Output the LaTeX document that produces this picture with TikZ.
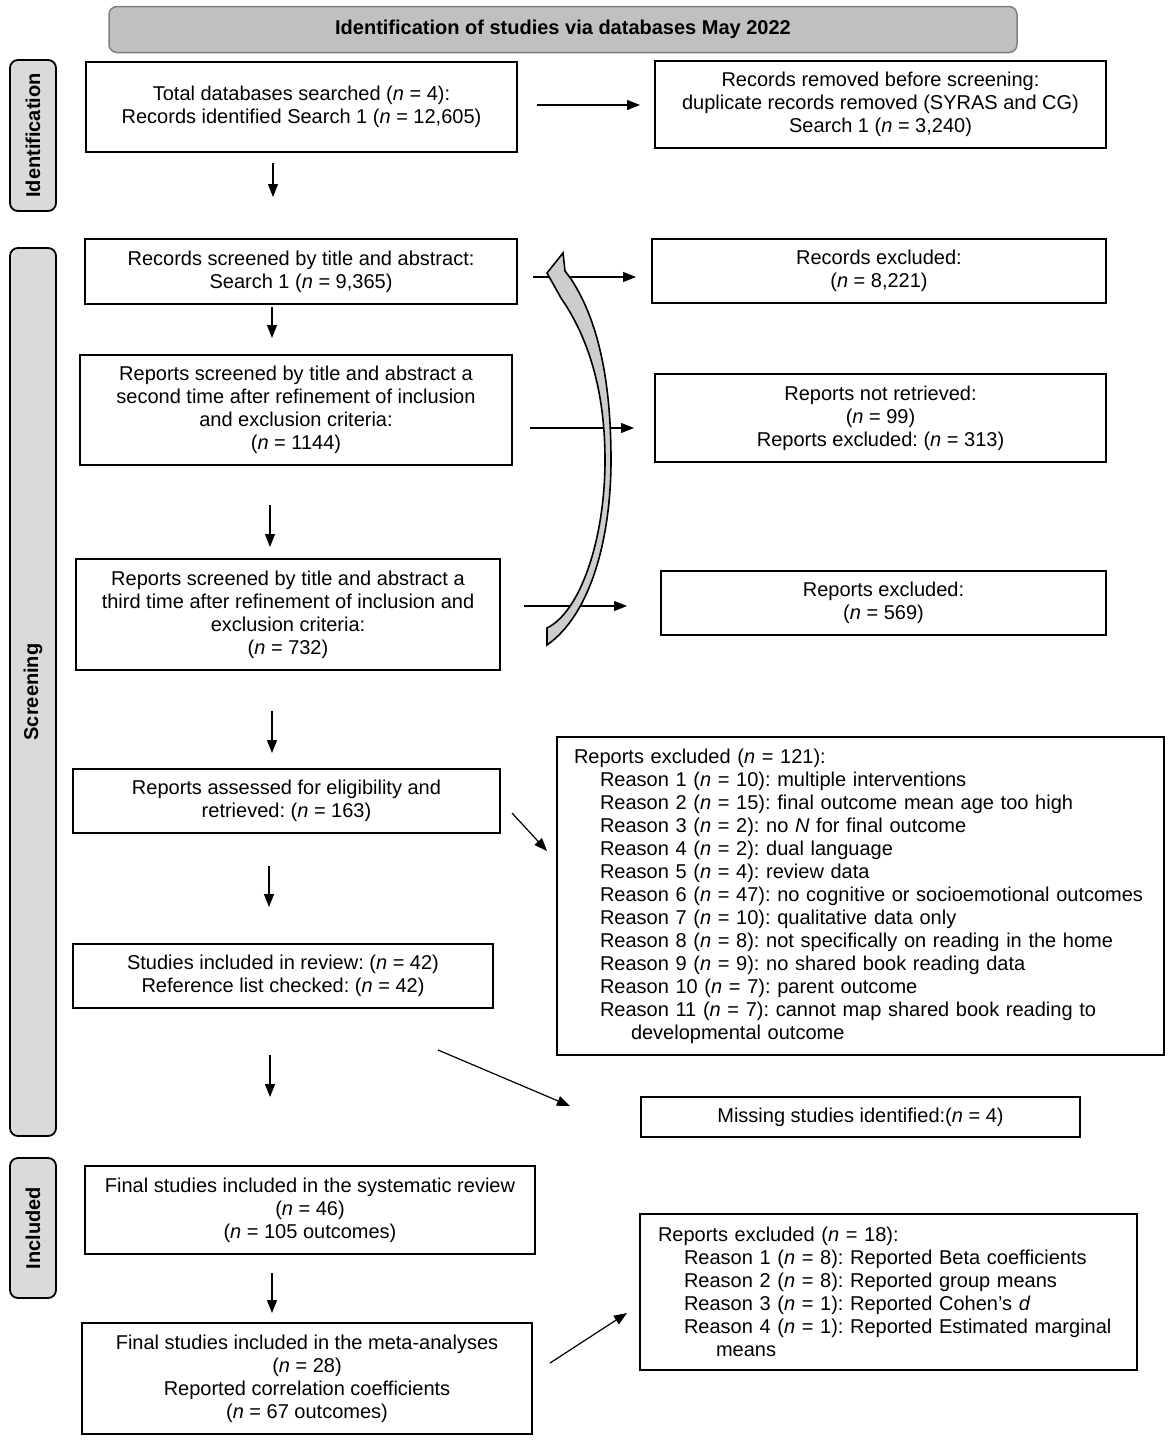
\documentclass[tikz,border=0pt]{standalone}
\usepackage{fontspec}
\setmainfont{Liberation Sans}
\usetikzlibrary{arrows.meta}
\definecolor{hdrfill}{RGB}{192,192,192}
\definecolor{hdrline}{RGB}{128,128,128}
\definecolor{sidefill}{RGB}{218,218,218}
\definecolor{bandfill}{RGB}{205,205,205}
\newcommand{\nn}{\textit{n}}
\frenchspacing
\begin{document}
\begin{tikzpicture}[x=1pt,y=-1pt,
  box/.style={draw, line width=1.8pt, inner sep=0pt, align=center, font=\fontsize{20}{23}\selectfont},
  side/.style={draw, line width=1.8pt, rounded corners=8pt, fill=sidefill, inner sep=0pt, font=\bfseries\fontsize{20}{23}\selectfont},
  arr/.style={line width=1.2pt, -{Triangle[length=13pt,width=10pt]}}
]
\useasboundingbox (0,0) rectangle (1170,1443);

% header
\node[draw=hdrline, fill=hdrfill, line width=1.5pt, rounded corners=8pt, inner sep=0pt,
      minimum width=908pt, minimum height=46pt, font=\bfseries\fontsize{20}{23}\selectfont]
      (hdr) at (563,29.5) {Identification of studies via databases May 2022};

% side labels
\node[side, rotate=90, minimum width=151pt, minimum height=46pt] (idl) at (33,135.5) {Identification};
\node[side, rotate=90, minimum width=888pt, minimum height=46pt] (scl) at (33,692) {Screening};
\node[side, rotate=90, minimum width=140pt, minimum height=46pt] (inl) at (33,1228) {Included};

% left column
\node[box, minimum width=431pt, minimum height=90pt] (B1) at (301.5,107)
  {Total databases searched (\nn{} = 4):\\Records identified Search 1 (\nn{} = 12,605)};
\node[box, minimum width=432pt, minimum height=65pt] (B2) at (301,271.5)
  {Records screened by title and abstract:\\Search 1 (\nn{} = 9,365)};
\node[box, minimum width=432pt, minimum height=110pt] (B3) at (296,410)
  {Reports screened by title and abstract a\\second time after refinement of inclusion\\and exclusion criteria:\\(\nn{} = 1144)};
\node[box, minimum width=424pt, minimum height=111pt] (B4) at (288,614.5)
  {Reports screened by title and abstract a\\third time after refinement of inclusion and\\exclusion criteria:\\(\nn{} = 732)};
\node[box, minimum width=427pt, minimum height=64pt] (B5) at (286.5,801)
  {Reports assessed for eligibility and\\retrieved: (\nn{} = 163)};
\node[box, minimum width=420pt, minimum height=64pt] (B6) at (283,976)
  {Studies included in review: (\nn{} = 42)\\Reference list checked: (\nn{} = 42)};
\node[box, minimum width=450pt, minimum height=88pt] (B7) at (310,1210)
  {Final studies included in the systematic review\\(\nn{} = 46)\\(\nn{} = 105 outcomes)};
\node[box, minimum width=450pt, minimum height=111pt] (B8) at (307,1378.5)
  {Final studies included in the meta-analyses\\(\nn{} = 28)\\Reported correlation coefficients\\(\nn{} = 67 outcomes)};

% right column
\node[box, minimum width=451pt, minimum height=87pt] (R1) at (880.5,104.5)
  {Records removed before screening:\\duplicate records removed (SYRAS and CG)\\Search 1 (\nn{} = 3,240)};
\node[box, minimum width=454pt, minimum height=64pt] (R2) at (879,271)
  {Records excluded:\\(\nn{} = 8,221)};
\node[box, minimum width=451pt, minimum height=88pt] (R3) at (880.5,418)
  {Reports not retrieved:\\(\nn{} = 99)\\Reports excluded: (\nn{} = 313)};
\node[box, minimum width=445pt, minimum height=64pt] (R4) at (883.5,603)
  {Reports excluded:\\(\nn{} = 569)};
\node[box, align=left, text width=573pt, minimum width=607pt, minimum height=318pt] (R5) at (860.5,896)
  {\mbox{Reports excluded (\nn{} = 121):}\\
   \mbox{\hspace*{26pt}Reason 1 (\nn{} = 10): multiple interventions}\\
   \mbox{\hspace*{26pt}Reason 2 (\nn{} = 15): final outcome mean age too high}\\
   \mbox{\hspace*{26pt}Reason 3 (\nn{} = 2): no \textit{N} for final outcome}\\
   \mbox{\hspace*{26pt}Reason 4 (\nn{} = 2): dual language}\\
   \mbox{\hspace*{26pt}Reason 5 (\nn{} = 4): review data}\\
   \mbox{\hspace*{26pt}Reason 6 (\nn{} = 47): no cognitive or socioemotional outcomes}\\
   \mbox{\hspace*{26pt}Reason 7 (\nn{} = 10): qualitative data only}\\
   \mbox{\hspace*{26pt}Reason 8 (\nn{} = 8): not specifically on reading in the home}\\
   \mbox{\hspace*{26pt}Reason 9 (\nn{} = 9): no shared book reading data}\\
   \mbox{\hspace*{26pt}Reason 10 (\nn{} = 7): parent outcome}\\
   \mbox{\hspace*{26pt}Reason 11 (\nn{} = 7): cannot map shared book reading to}\\
   \mbox{\hspace*{57pt}developmental outcome}};
\node[box, minimum width=439pt, minimum height=40pt] (R6) at (860.5,1117)
  {Missing studies identified:(\nn{} = 4)};
\node[box, align=left, text width=461pt, minimum width=497pt, minimum height=156pt] (R7) at (888.5,1292)
  {\mbox{Reports excluded (\nn{} = 18):}\\
   \mbox{\hspace*{26pt}Reason 1 (\nn{} = 8): Reported Beta coefficients}\\
   \mbox{\hspace*{26pt}Reason 2 (\nn{} = 8): Reported group means}\\
   \mbox{\hspace*{26pt}Reason 3 (\nn{} = 1): Reported Cohen’s \textit{d}}\\
   \mbox{\hspace*{26pt}Reason 4 (\nn{} = 1): Reported Estimated marginal}\\
   \mbox{\hspace*{58pt}means}};

% free arrow ends
\coordinate (d1s) at (273,163);  \coordinate (d1e) at (273,197);
\coordinate (d2s) at (272,307);  \coordinate (d2e) at (272,338);
\coordinate (d3s) at (270,505);  \coordinate (d3e) at (270,547);
\coordinate (d4s) at (272,711);  \coordinate (d4e) at (272,753);
\coordinate (d5s) at (269,866);  \coordinate (d5e) at (269,907);
\coordinate (d6s) at (270,1055); \coordinate (d6e) at (270,1097);
\coordinate (d7s) at (272,1273); \coordinate (d7e) at (272,1313);
\coordinate (a1s) at (537,105);  \coordinate (a1e) at (640,105);
\coordinate (a2s) at (533,277);  \coordinate (a2e) at (636,277);
\coordinate (a3s) at (530,428);  \coordinate (a3e) at (634,428);
\coordinate (a4s) at (524,606);  \coordinate (a4e) at (627,606);
\coordinate (a5s) at (512,813);  \coordinate (a5e) at (547,851);
\coordinate (a6s) at (438,1050); \coordinate (a6e) at (570,1106);
\coordinate (a7s) at (550,1363); \coordinate (a7e) at (627,1313);

\foreach \s/\e in {d1s/d1e,d2s/d2e,d3s/d3e,d4s/d4e,d5s/d5e,d6s/d6e,d7s/d7e,
                   a1s/a1e,a2s/a2e,a3s/a3e,a4s/a4e,a5s/a5e,a6s/a6e,a7s/a7e}
  \draw[arr] (\s) -- (\e);

% curved block arrow
\draw[line width=1.6pt, fill=bandfill, line join=miter]
  (547,645)
  .. controls (590,615) and (611,540) .. (611,460)
  .. controls (611,380) and (598,320) .. (571,279)
  -- (565,271) -- (563,253) -- (547,273) -- (561,298)
  .. controls (588,337) and (605,390) .. (605,460)
  .. controls (605,540) and (580,612) .. (547,628)
  -- cycle;
\end{tikzpicture}
\end{document}
